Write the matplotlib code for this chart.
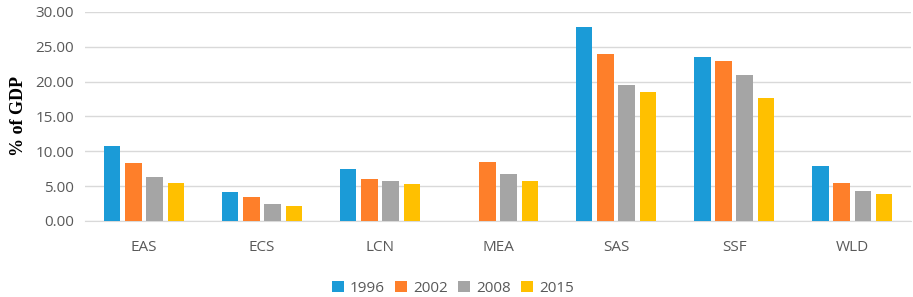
import matplotlib.pyplot as plt
import numpy as np

regions = ["EAS", "ECS", "LCN", "MEA", "SAS", "SSF", "WLD"]
years = ["1996", "2002", "2008", "2015"]
v1996 = [10.7, 4.1, 7.5, np.nan, 27.8, 23.5, 7.9]
v2002 = [8.3, 3.4, 6.0, 8.4, 24.0, 22.9, 5.4]
v2008 = [6.3, 2.5, 5.8, 6.7, 19.5, 20.9, 4.3]
v2015 = [5.5, 2.1, 5.3, 5.7, 18.5, 17.7, 3.9]

colors = ["#1B9BD7", "#FE7F2A", "#A5A5A5", "#FFC000"]


def main():
    fig = plt.figure(figsize=(9.13, 2.97), dpi=100)
    ax = fig.add_axes([0.093, 0.256, 0.905, 0.704])
    x = np.arange(len(regions))
    width = 0.14
    step = 0.18
    for i, (vals, yr) in enumerate(zip([v1996, v2002, v2008, v2015], years)):
        ax.bar(x + step * (i - 1.5), vals, width, color=colors[i], label=yr, zorder=3)

    ax.set_ylim(0, 30)
    ax.set_xlim(-0.5, len(regions) - 0.5)
    ax.set_yticks(np.arange(0, 31, 5))
    ax.set_yticklabels(["%.2f" % t for t in np.arange(0, 31, 5)])
    ax.set_xticks(x)
    ax.set_xticklabels(regions)
    ax.tick_params(axis="both", length=0, labelsize=11, labelcolor="#595959")
    ax.tick_params(axis="x", pad=14)
    ax.tick_params(axis="y", pad=8)
    for lab in ax.get_xticklabels() + ax.get_yticklabels():
        lab.set_family("Open Sans")
    ax.grid(axis="y", color="#D9D9D9", linewidth=1, zorder=0)
    for s in ["top", "right", "left"]:
        ax.spines[s].set_visible(False)
    ax.spines["bottom"].set_color("#D9D9D9")
    ax.set_ylabel("% of GDP", family="Liberation Serif", fontweight="bold", fontsize=13, labelpad=6)

    fig.legend(loc="center", bbox_to_anchor=(0.496, 0.03), ncol=4, frameon=False,
               prop={"family": "Open Sans", "size": 11}, handlelength=0.75, handleheight=0.75,
               handletextpad=0.4, columnspacing=0.7, labelcolor="#595959")

    fig.savefig("out.png", dpi=100)


if __name__ == "__main__":
    main()
